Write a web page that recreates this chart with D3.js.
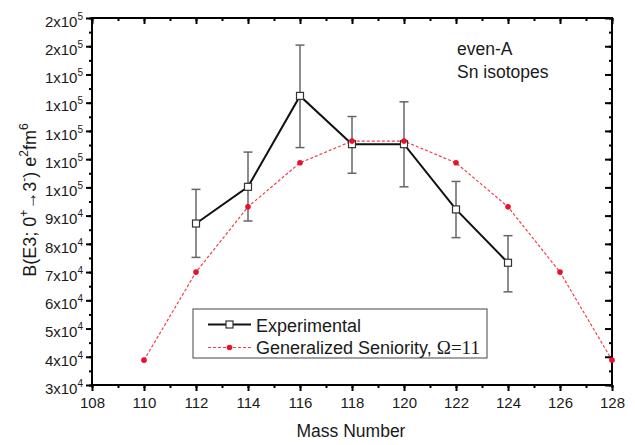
<!DOCTYPE html>
<html>
<head>
<meta charset="utf-8">
<script src="https://cdn.jsdelivr.net/npm/d3@7"></script>
<style>
  body { margin: 0; background: #fff; }
  svg { font-family: "Liberation Sans", Arial, sans-serif; }
</style>
</head>
<body>
<div class="chart"></div>
<script>
// data
const massNumbers = [112, 114, 116, 118, 120, 122, 124];
const expValues = [87200, 100200, 132400, 115300, 115300, 92200, 73300];
const expErrLow = [75200, 88100, 114100, 105000, 100200, 82200, 63000];
const expErrHigh = [99300, 112500, 150400, 125100, 130300, 102100, 82900];

const seniorityMass = [110, 112, 114, 116, 118, 120, 122, 124, 126, 128];
const seniorityValues = [38800, 70000, 93100, 108700, 116400, 116400, 108700, 93100, 70000, 38800];

const xTicks = [108, 110, 112, 114, 116, 118, 120, 122, 124, 126, 128];
const yTicks = [30000, 40000, 50000, 60000, 70000, 80000, 90000, 100000, 110000, 120000, 130000, 140000, 150000, 160000];
const yTickLabels = ['3x10^4', '4x10^4', '5x10^4', '6x10^4', '7x10^4', '8x10^4', '9x10^4',
                     '1x10^5', '1x10^5', '1x10^5', '1x10^5', '1x10^5', '2x10^5', '2x10^5'];

const width = 635, height = 445;
const margin = {left: 92, right: 23, top: 18, bottom: 60};
const textColor = '#1a1a1a';

const svg = d3.select('.chart')
              .append('svg')
              .attr('width', width)
              .attr('height', height);

const x = d3.scaleLinear()
            .domain([108, 128])
            .range([margin.left, width - margin.right]);
const y = d3.scaleLinear()
            .domain([30000, 160000])
            .range([height - margin.bottom, margin.top]);

const minorX = d3.range(108, 128.01, 1);
const minorY = d3.range(30000, 160001, 5000);

// axes: bottom/left ticks outward, top/right ticks inward
svg.append('g')
   .attr('transform', `translate(0, ${height - margin.bottom})`)
   .call(d3.axisBottom(x).tickValues(minorX).tickSize(3).tickFormat(''))
   .call(g => g.select('.domain').remove())
   .call(g => g.selectAll('line').attr('stroke-width', 2));
svg.append('g')
   .attr('transform', `translate(0, ${height - margin.bottom})`)
   .call(d3.axisBottom(x).tickValues(xTicks).tickSize(6).tickPadding(6).tickFormat(d3.format('d')))
   .call(g => g.select('.domain').remove())
   .call(g => g.selectAll('line').attr('stroke-width', 2))
   .call(g => g.selectAll('text').attr('font-size', 15).attr('fill', textColor).attr('font-family', 'Liberation Sans, Arial'));

svg.append('g')
   .attr('transform', `translate(0, ${margin.top})`)
   .call(d3.axisBottom(x).tickValues(minorX).tickSize(3).tickFormat(''))
   .call(g => g.select('.domain').remove())
   .call(g => g.selectAll('line').attr('stroke-width', 2));
svg.append('g')
   .attr('transform', `translate(0, ${margin.top})`)
   .call(d3.axisBottom(x).tickValues(xTicks).tickSize(6).tickFormat(''))
   .call(g => g.select('.domain').remove())
   .call(g => g.selectAll('line').attr('stroke-width', 2));

svg.append('g')
   .attr('transform', `translate(${margin.left}, 0)`)
   .call(d3.axisLeft(y).tickValues(minorY).tickSize(3).tickFormat(''))
   .call(g => g.select('.domain').remove())
   .call(g => g.selectAll('line').attr('stroke-width', 2));
const yAxis = svg.append('g')
   .attr('transform', `translate(${margin.left}, 0)`)
   .call(d3.axisLeft(y).tickValues(yTicks).tickSize(6).tickPadding(3).tickFormat(''))
   .call(g => g.select('.domain').remove())
   .call(g => g.selectAll('line').attr('stroke-width', 2));

// tick labels with superscript exponent
yAxis.selectAll('.tick text')
     .attr('font-size', 15)
     .attr('fill', textColor)
     .attr('font-family', 'Liberation Sans, Arial')
     .each(function(d, i) {
         const parts = yTickLabels[i].split('^');
         const t = d3.select(this);
         t.append('tspan').text(parts[0]);
         t.append('tspan').attr('font-size', 10).attr('dy', -7).text(parts[1]);
     })
     .attr('dy', '0.55em');

svg.append('g')
   .attr('transform', `translate(${width - margin.right}, 0)`)
   .call(d3.axisLeft(y).tickValues(minorY).tickSize(-3).tickFormat(''))
   .call(g => g.select('.domain').remove())
   .call(g => g.selectAll('line').attr('stroke-width', 2).attr('x2', -3));
svg.append('g')
   .attr('transform', `translate(${width - margin.right}, 0)`)
   .call(d3.axisLeft(y).tickValues(yTicks).tickSize(6).tickFormat(''))
   .call(g => g.select('.domain').remove())
   .call(g => g.selectAll('line').attr('stroke-width', 2).attr('x2', -7));

// frame
svg.append('rect')
   .attr('x', margin.left)
   .attr('y', margin.top)
   .attr('width', width - margin.left - margin.right)
   .attr('height', height - margin.top - margin.bottom)
   .attr('fill', 'none')
   .attr('stroke', '#000')
   .attr('stroke-width', 2);

// generalized seniority curve
const sen = seniorityMass.map((m, i) => ({m: m, v: seniorityValues[i]}));
svg.append('path')
   .datum(sen)
   .attr('fill', 'none')
   .attr('stroke', '#f0404a')
   .attr('stroke-width', 1.2)
   .attr('stroke-dasharray', '3,2')
   .attr('d', d3.line().x(d => x(d.m)).y(d => y(d.v)));

// experimental
const exp = massNumbers.map((m, i) => ({m: m, v: expValues[i], lo: expErrLow[i], hi: expErrHigh[i]}));

const err = svg.append('g').attr('stroke', '#666').attr('stroke-width', 1.5);
err.selectAll('.bar')
   .data(exp)
   .join('line')
   .attr('x1', d => x(d.m)).attr('x2', d => x(d.m))
   .attr('y1', d => y(d.lo)).attr('y2', d => y(d.hi));
err.selectAll('.capTop')
   .data(exp)
   .join('line')
   .attr('x1', d => x(d.m) - 4.5).attr('x2', d => x(d.m) + 4.5)
   .attr('y1', d => y(d.hi)).attr('y2', d => y(d.hi));
err.selectAll('.capBot')
   .data(exp)
   .join('line')
   .attr('x1', d => x(d.m) - 4.5).attr('x2', d => x(d.m) + 4.5)
   .attr('y1', d => y(d.lo)).attr('y2', d => y(d.lo));

svg.append('path')
   .datum(exp)
   .attr('fill', 'none')
   .attr('stroke', '#111')
   .attr('stroke-width', 2)
   .attr('d', d3.line().x(d => x(d.m)).y(d => y(d.v)));

svg.selectAll('.sq')
   .data(exp)
   .join('rect')
   .attr('x', d => x(d.m) - 3.5)
   .attr('y', d => y(d.v) - 3.5)
   .attr('width', 7)
   .attr('height', 7)
   .attr('fill', '#fff')
   .attr('stroke', '#333')
   .attr('stroke-width', 1.2);

svg.selectAll('.dot')
   .data(sen)
   .join('circle')
   .attr('cx', d => x(d.m))
   .attr('cy', d => y(d.v))
   .attr('r', 2.8)
   .attr('fill', '#e8102a');

// annotation
svg.append('text').attr('x', 457).attr('y', 55).attr('font-size', 17.5).attr('fill', textColor).text('even-A');
svg.append('text').attr('x', 457).attr('y', 78).attr('font-size', 17.5).attr('fill', textColor).text('Sn isotopes');

// legend
const legend = svg.append('g');
legend.append('rect')
      .attr('x', 193).attr('y', 309)
      .attr('width', 294).attr('height', 49)
      .attr('fill', '#fff')
      .attr('stroke', '#444')
      .attr('stroke-width', 1);
legend.append('line')
      .attr('x1', 208).attr('x2', 251).attr('y1', 324.5).attr('y2', 324.5)
      .attr('stroke', '#111').attr('stroke-width', 2);
legend.append('rect')
      .attr('x', 226).attr('y', 321).attr('width', 7).attr('height', 7)
      .attr('fill', '#fff').attr('stroke', '#333').attr('stroke-width', 1.2);
legend.append('text').attr('x', 256).attr('y', 331.5).attr('font-size', 18).attr('fill', textColor).text('Experimental');
legend.append('line')
      .attr('x1', 208).attr('x2', 251).attr('y1', 347.5).attr('y2', 347.5)
      .attr('stroke', '#f0404a').attr('stroke-width', 1.2).attr('stroke-dasharray', '3,2');
legend.append('circle').attr('cx', 229.5).attr('cy', 347.5).attr('r', 2.8).attr('fill', '#e8102a');
const lt = legend.append('text').attr('x', 256).attr('y', 353.5).attr('font-size', 18).attr('fill', textColor);
lt.append('tspan').text('Generalized Seniority, ');
lt.append('tspan').attr('font-family', 'Liberation Serif, Times New Roman, serif').attr('font-size', 19).text('\u03A9=11');

// axis titles
svg.append('text')
   .attr('x', 351).attr('y', 437)
   .attr('text-anchor', 'middle')
   .attr('font-size', 17.5)
   .attr('fill', textColor)
   .text('Mass Number');

const yl = svg.append('text')
   .attr('transform', 'translate(36, 200) rotate(-90)')
   .attr('text-anchor', 'middle')
   .attr('font-size', 18)
   .attr('fill', textColor);
yl.append('tspan').text('B(E3; 0');
yl.append('tspan').attr('font-size', 12).attr('dy', -8).text('+');
yl.append('tspan').attr('dy', 8).text('\u21923');
yl.append('tspan').attr('font-size', 12).attr('dy', -8).text('-');
yl.append('tspan').attr('dy', 8).text(') e');
yl.append('tspan').attr('font-size', 12).attr('dy', -8).text('2');
yl.append('tspan').attr('dy', 8).text('fm');
yl.append('tspan').attr('font-size', 12).attr('dy', -8).text('6');
</script>
</body>
</html>
